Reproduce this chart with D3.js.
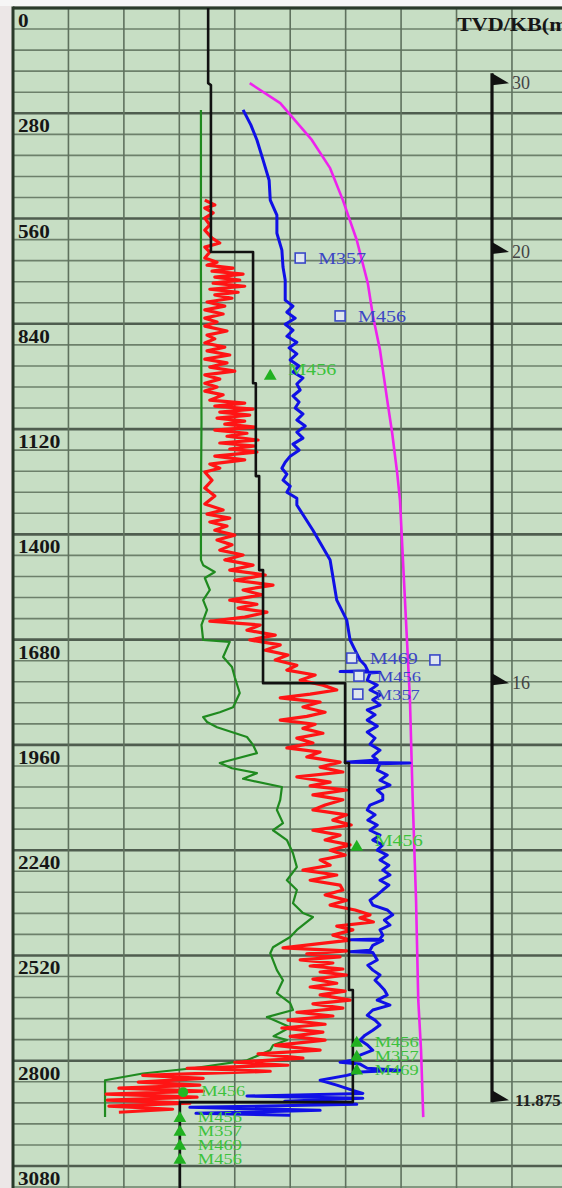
<!DOCTYPE html>
<html><head><meta charset="utf-8">
<script src="https://cdn.jsdelivr.net/npm/d3@7"></script>
<style>html,body{margin:0;padding:0;background:#ece7e7;}svg{display:block;}</style>
</head><body>
<script>
// ---------- DATA ----------
const depthTicks = [0,280,560,840,1120,1400,1680,1960,2240,2520,2800,3080];
const depthTickLabels = ["0","280","560","840","1120","1400","1680","1960","2240","2520","2800","3080"];
const titleText = "TVD/KB(m)";
const flagDepths = [200, 649, 1796, 2905];
const flagLabels = ["30","20","16","11.875"];

// black step curve [depth, value]
const stepCurve = [[0,35.2],[200,35.2],[205,35.7],[649,35.7],[649,43.3],[998,43.3],[998,43.8],[1245,43.8],[1245,44.4],[1495,44.4],[1495,45.1],[1796,45.1],[1796,59.9],[2008,59.9],[2008,60.6],[2612,60.6],[2612,61.3],[2910,61.3],[2910,30.1],[3140,30.1]];

// green curve
const greenCurve = [[271,33.9],[700,33.9],[1100,34.0],[1300,33.9],[1468,33.9],[1482,34.3],[1500,36.4],[1516,34.6],[1548,35.5],[1575,34.3],[1601,35.0],[1641,34.0],[1681,34.3],[1686,39.1],[1726,37.9],[1753,39.5],[1780,40.0],[1822,40.9],[1860,39.7],[1873,37.3],[1886,34.3],[1899,35.0],[1913,36.8],[1939,42.2],[1960,43.3],[1982,44.0],[2008,37.3],[2022,39.5],[2035,44.0],[2050,41.5],[2072,48.5],[2106,48.2],[2133,47.6],[2168,48.7],[2187,46.9],[2213,49.4],[2248,50.5],[2285,51.2],[2320,49.4],[2346,51.2],[2381,50.5],[2407,52.3],[2418,54.1],[2452,51.2],[2471,50.0],[2498,46.9],[2514,46.4],[2559,47.6],[2586,48.7],[2620,47.6],[2647,50.0],[2665,50.5],[2684,45.8],[2711,50.0],[2735,47.0],[2745,49.4],[2759,46.9],[2772,46.4],[2799,42.2],[2820,32.5],[2834,23.4],[2852,16.6],[2950,16.6]];

// red curve
const redCurve = [[511,34.6],[524,36.4],[532,34.6],[545,36.1],[559,34.6],[577,35.5],[591,34.6],[612,35.9],[625,37.3],[636,34.6],[649,35.5],[665,34.6],[676,36.8],[684,35.0],[692,39.7],[700,35.9],[708,41.5],[716,36.4],[724,40.9],[732,36.1],[740,41.8],[748,35.5],[756,40.6],[763,36.4],[772,39.5],[782,35.0],[793,38.2],[803,34.6],[814,37.9],[825,34.6],[835,36.8],[846,34.6],[859,38.6],[870,35.0],[880,36.4],[891,34.6],[902,38.2],[912,35.0],[923,39.1],[934,34.6],[944,38.6],[955,35.5],[966,40.0],[976,34.6],[987,37.3],[998,34.6],[1008,36.8],[1019,34.6],[1029,37.9],[1043,35.5],[1051,41.8],[1059,36.4],[1067,43.3],[1075,37.3],[1083,42.7],[1091,36.8],[1099,41.8],[1107,38.2],[1115,43.7],[1123,36.4],[1131,42.2],[1139,38.6],[1149,44.2],[1157,37.3],[1165,43.7],[1173,39.1],[1181,44.0],[1192,36.4],[1202,41.8],[1213,35.5],[1224,37.3],[1234,34.6],[1256,35.9],[1277,34.6],[1298,36.4],[1319,34.6],[1335,37.9],[1346,35.0],[1357,39.1],[1367,35.5],[1378,38.6],[1389,36.4],[1402,40.0],[1415,36.8],[1428,39.5],[1442,37.3],[1455,41.5],[1468,38.2],[1482,43.3],[1495,39.1],[1508,45.5],[1522,40.0],[1535,46.9],[1548,41.5],[1561,44.9],[1575,39.1],[1586,44.0],[1596,40.6],[1607,45.8],[1620,41.8],[1631,35.5],[1641,44.6],[1655,42.2],[1668,47.3],[1681,42.7],[1694,48.2],[1708,45.5],[1721,49.6],[1734,47.3],[1748,51.2],[1761,49.4],[1774,54.5],[1788,51.8],[1801,55.9],[1814,58.4],[1825,53.6],[1835,48.2],[1846,55.4],[1859,52.3],[1873,56.3],[1884,53.0],[1894,48.2],[1905,54.5],[1916,52.3],[1929,55.9],[1942,51.2],[1955,54.1],[1968,49.4],[1979,55.4],[1992,53.0],[2006,59.0],[2019,55.4],[2032,59.5],[2045,51.2],[2059,57.2],[2069,53.6],[2080,60.2],[2093,54.1],[2106,59.5],[2120,56.3],[2133,54.1],[2146,60.2],[2160,57.7],[2173,61.0],[2187,54.1],[2200,59.0],[2213,56.3],[2226,60.8],[2240,57.2],[2253,59.9],[2266,55.4],[2280,57.2],[2293,52.3],[2306,58.4],[2320,53.6],[2333,59.0],[2346,59.5],[2359,56.3],[2373,60.2],[2386,57.2],[2399,61.7],[2412,64.4],[2420,62.6],[2431,65.0],[2442,58.4],[2452,61.3],[2466,57.7],[2479,60.8],[2490,54.5],[2500,48.7],[2508,60.2],[2516,53.0],[2524,59.0],[2532,51.8],[2540,57.7],[2548,53.6],[2556,59.5],[2564,55.4],[2572,60.2],[2583,54.1],[2594,58.4],[2604,53.6],[2615,59.9],[2625,55.4],[2639,60.8],[2649,54.1],[2660,59.5],[2671,51.2],[2681,57.7],[2692,49.6],[2703,56.3],[2713,48.5],[2724,55.9],[2735,50.0],[2745,56.3],[2759,47.3],[2772,55.4],[2782,44.2],[2793,52.3],[2804,40.0],[2812,49.6],[2820,31.4],[2828,46.4],[2839,23.4],[2847,34.3],[2857,22.6],[2865,33.7],[2873,19.1],[2881,34.3],[2889,16.8],[2897,33.2],[2905,17.0],[2913,31.9],[2921,17.3],[2929,28.8],[2937,19.1]];

// blue curve
const blueCurve = [[271,41.5],[311,42.9],[351,44.0],[404,45.1],[458,46.2],[511,46.4],[551,47.6],[599,47.6],[644,48.5],[689,48.7],[724,49.1],[777,49.1],[793,50.5],[809,49.4],[825,50.9],[841,49.1],[857,50.5],[873,49.4],[889,51.2],[904,49.8],[920,51.2],[936,50.0],[952,51.6],[968,50.5],[984,52.3],[1000,51.2],[1016,51.8],[1032,50.5],[1048,51.6],[1064,50.9],[1080,52.3],[1096,51.2],[1112,52.7],[1128,51.2],[1144,52.3],[1160,50.5],[1176,51.6],[1192,50.0],[1208,49.1],[1224,48.5],[1240,49.4],[1256,48.7],[1272,50.0],[1288,49.4],[1304,51.2],[1322,51.2],[1389,54.1],[1468,57.2],[1575,58.4],[1628,60.2],[1681,60.8],[1708,61.7],[1734,62.6],[1748,63.5],[1763,64.0],[1765,59.0],[1767,66.2],[1769,64.4],[1788,63.9],[1801,65.7],[1814,64.4],[1827,66.2],[1840,64.9],[1854,66.2],[1867,63.9],[1880,65.3],[1894,63.9],[1910,65.7],[1926,63.9],[1942,65.3],[1958,64.4],[1974,66.2],[1990,64.9],[2000,65.7],[2006,59.9],[2008,71.6],[2010,66.2],[2027,65.7],[2040,67.5],[2054,66.2],[2067,68.0],[2080,65.7],[2093,66.7],[2106,66.7],[2120,64.4],[2133,63.9],[2146,65.3],[2160,64.0],[2173,65.7],[2187,64.4],[2200,66.2],[2213,64.9],[2226,66.7],[2240,65.7],[2253,67.5],[2266,66.2],[2280,67.8],[2293,66.7],[2306,68.0],[2320,66.2],[2333,67.8],[2346,66.7],[2359,65.7],[2373,64.4],[2386,64.9],[2399,67.5],[2412,68.5],[2426,67.0],[2439,68.0],[2452,66.2],[2466,66.7],[2476,66.2],[2478,61.0],[2480,66.7],[2493,64.9],[2506,64.4],[2510,60.8],[2512,64.9],[2532,65.7],[2546,64.0],[2559,64.9],[2572,66.2],[2586,65.3],[2599,66.2],[2612,67.0],[2625,67.5],[2639,65.7],[2652,68.0],[2665,64.9],[2679,63.9],[2692,65.3],[2705,66.2],[2719,64.9],[2732,63.5],[2745,62.6],[2759,64.0],[2772,64.9],[2785,62.6],[2799,61.3],[2804,59.0],[2809,62.6],[2820,63.9],[2825,69.8],[2830,62.6],[2839,60.2],[2852,55.4],[2865,58.4],[2879,61.3],[2887,63.1],[2894,42.2],[2900,63.1],[2908,49.0],[2916,62.0],[2924,31.9],[2932,55.4],[2940,33.0],[2945,50.0]];

// magenta curve
const magentaCurve = [[200,42.7],[253,48.2],[351,53.9],[426,57.2],[511,59.5],[617,62.0],[732,64.0],[817,64.9],[910,66.2],[1043,67.5],[1131,68.4],[1237,69.3],[1309,69.8],[1575,70.7],[1841,71.6],[2107,72.1],[2373,72.7],[2639,73.1],[2772,73.6],[2950,74.0]];

// markers
const markerDepths = [665, 819, 979, 1729, 1734, 1777, 1825, 2232, 2753, 2790, 2827, 2884, 2953, 2990, 3027, 3064];
const markerValues = [51.8, 59.0, 46.4, 61.1, 76.1, 62.4, 62.2, 62.0, 62.0, 62.0, 62.0, 30.7, 30.1, 30.1, 30.1, 30.1];
const markerKinds = ["square","square","triangle","square","square","square","square","triangle","triangle","triangle","triangle","circle","triangle","triangle","triangle","triangle"];
const markerLabels = ["M357","M456","M456","M469","","M456","M357","M456","M456","M357","M469","M456","M456","M357","M469","M456"];

// ---------- DRAW ----------
const W = 562, H = 1188;
const svg = d3.select("body").append("svg").attr("width", W).attr("height", H);
const y = d3.scaleLinear().domain([0, 3080]).range([8, 1166]);
const x = d3.scaleLinear().domain([0, 100]).range([13, 567.4]);

svg.append("rect").attr("x",0).attr("y",0).attr("width",W).attr("height",H).attr("fill","#ece7e7");
svg.append("rect").attr("x",0).attr("y",0).attr("width",W).attr("height",6).attr("fill","#f6f6f6");
svg.append("rect").attr("x",x(0)).attr("y",y(0)).attr("width",W).attr("height",H).attr("fill","#c7dec4");

// grid
const grid = svg.append("g");
const minorDepths = d3.range(0, 3200, 56);
grid.selectAll("line.h").data(minorDepths).join("line")
  .attr("x1", x(0)).attr("x2", W).attr("y1", d=>y(d)).attr("y2", d=>y(d))
  .attr("stroke", d => d % 280 === 0 ? "#4f5d4f" : "#6d806b")
  .attr("stroke-width", d => d % 280 === 0 ? 2.6 : 1.6);
grid.selectAll("line.v").data(d3.range(10, 110, 10)).join("line")
  .attr("x1", d=>x(d)).attr("x2", d=>x(d)).attr("y1", y(0)).attr("y2", H)
  .attr("stroke", "#5f715e").attr("stroke-width", 1.6);
// borders
svg.append("line").attr("x1",x(0)).attr("x2",x(0)).attr("y1",y(0)-1.5).attr("y2",H).attr("stroke","#2a3a2a").attr("stroke-width",3);
svg.append("line").attr("x1",x(0)).attr("x2",W).attr("y1",y(0)).attr("y2",y(0)).attr("stroke","#2a3a2a").attr("stroke-width",3);

// depth labels
svg.append("g").selectAll("text").data(depthTicks).join("text")
  .attr("x", 18).attr("y", d => y(d) + 19)
  .attr("font-family","Liberation Serif").attr("font-weight","bold").attr("font-size",18)
  .attr("fill","#161616")
  .attr("textLength", (d,i)=>depthTickLabels[i].length*10.6).attr("lengthAdjust","spacingAndGlyphs")
  .text((d,i)=>depthTickLabels[i]);

svg.append("text").attr("x",457).attr("y",31)
  .attr("font-family","Liberation Serif").attr("font-weight","bold").attr("font-size",19)
  .attr("fill","#161616").attr("textLength",118).attr("lengthAdjust","spacingAndGlyphs").text(titleText);

const line = d3.line().x(d=>x(d[1])).y(d=>y(d[0]));
const curves = svg.append("g").attr("fill","none").attr("stroke-linejoin","round");
curves.append("path").datum(magentaCurve).attr("d",line).attr("stroke","#ee22ee").attr("stroke-width",2.6);
curves.append("path").datum(greenCurve).attr("d",line).attr("stroke","#1f8a1f").attr("stroke-width",2.2);
curves.append("path").datum(redCurve).attr("d",line).attr("stroke","#ff1414").attr("stroke-width",3.2);
curves.append("path").datum(blueCurve).attr("d",line).attr("stroke","#1010e6").attr("stroke-width",3);
curves.append("path").datum(stepCurve).attr("d",line).attr("stroke","#111").attr("stroke-width",2.6);

// right flag axis
const axX = 492;
const fy = flagDepths.map(d=>y(d));
svg.append("line").attr("x1",axX).attr("x2",axX).attr("y1",fy[0]-10).attr("y2",fy[fy.length-1]+2)
  .attr("stroke","#111").attr("stroke-width",3.2);
svg.append("g").selectAll("path").data(flagDepths).join("path")
  .attr("d", d => { const yy=y(d); return `M${axX},${yy-10}L${axX+17},${yy}L${axX},${yy+2}Z`; })
  .attr("fill","#111");
svg.append("g").selectAll("text").data(flagDepths).join("text")
  .attr("x", (d,i)=> i===flagDepths.length-1 ? 515 : 512).attr("y", d=>y(d)+6)
  .attr("font-family","Liberation Serif").attr("font-size",(d,i)=> i===flagDepths.length-1 ? 17 : 18)
  .attr("fill", (d,i)=> i===flagDepths.length-1 ? "#222" : "#444")
  .attr("font-weight",(d,i)=> i===flagDepths.length-1 ? "bold" : "normal")
  .text((d,i)=>flagLabels[i]);

// markers
const mk = svg.append("g");
markerDepths.forEach((dp,i)=>{
  const cx = x(markerValues[i]), cy = y(dp), kind = markerKinds[i];
  const isBlue = kind === "square";
  if (kind === "square") {
    mk.append("rect").attr("x",cx-5).attr("y",cy-5).attr("width",10).attr("height",10)
      .attr("fill","#dfe7ee").attr("stroke","#3a48c8").attr("stroke-width",1.6);
  } else if (kind === "triangle") {
    mk.append("path").attr("d", d3.symbol(d3.symbolTriangle).size(70)()).attr("transform",`translate(${cx},${cy})`)
      .attr("fill","#21b021");
  } else {
    mk.append("circle").attr("cx",cx).attr("cy",cy).attr("r",5).attr("fill","#22b822");
  }
  if (markerLabels[i]) {
    const stacked = i >= 8;
    mk.append("text").attr("x", cx + 18).attr("y", cy + (isBlue ? 6 : (stacked ? 4 : -1)))
      .attr("font-family","Liberation Serif").attr("font-size", stacked || (i>=5 && i<=6) ? 14 : 16)
      .attr("fill", isBlue ? "#3c46c4" : "#3cc23c")
      .attr("textLength", stacked || (i>=5 && i<=6) ? 44 : 48).attr("lengthAdjust","spacingAndGlyphs")
      .text(markerLabels[i]);
  }
});
</script>
</body></html>
